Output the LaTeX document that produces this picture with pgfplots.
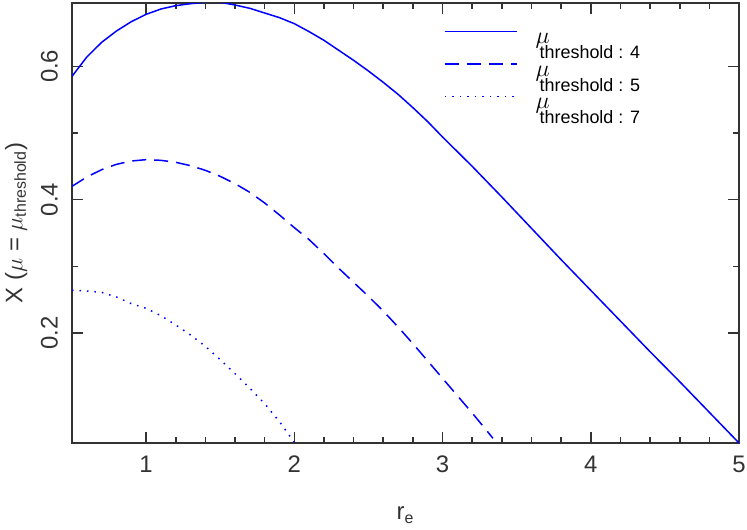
\documentclass[border=0pt]{standalone}
\usepackage{fontspec}
\setmainfont{Liberation Sans}
\usepackage{amsmath}
\usepackage{pgfplots}
\pgfplotsset{compat=1.18}

% legend label: mu raised above the word "threshold", fixed box height
\newcommand{\mth}[1]{\raisebox{-5bp}[12bp][0pt]{\rlap{\raisebox{7.5bp}{\fontsize{13}{13}\selectfont$\mu$}}\hspace{2bp}threshold : #1}}

\begin{document}
\begin{tikzpicture}
\begin{axis}[
  scale only axis, width=333.5bp, height=220bp,
  xmin=0.5, xmax=5, ymin=0.035, ymax=0.695,
  xtick={1,2,3,4,5}, minor x tick num=4,
  ytick={0.2,0.4,0.6}, minor y tick num=1,
  xtick pos=both, ytick pos=both, tick align=inside,
  major tick length=5.5bp, minor tick length=3bp,
  axis line style={line width=1bp, black!80},
  every tick/.style={line width=0.8bp, black!80},
  tick label style={font=\fontsize{12}{14}\selectfont, text=black!80},
  /pgf/number format/assume math mode=true,
  yticklabel style={rotate=90, anchor=south},
  yticklabel shift=3.5bp, xticklabel shift=3bp,
  label style={font=\fontsize{12}{14}\selectfont, text=black!80},
  xlabel={r$_{\text{e}}$},
  ylabel={X ($\mu$ = $\mu_{\text{threshold}}$)},
  xlabel style={at={(ticklabel cs:0.5,10bp)}, anchor=near ticklabel},
  ylabel style={at={(ticklabel cs:0.5,0bp)}, anchor=near ticklabel},
  legend style={at={(rel axis cs:0.558,0.951)}, anchor=north west, draw=none, fill=none,
    inner sep=0pt, outer sep=0pt,
    font=\fontsize{9}{10}\selectfont, row sep=2.75bp,
    nodes={inner sep=0pt, outer sep=0pt}, column sep=9bp,
    cells={anchor=base west}},
  legend image code/.code={\draw[#1] (0bp,8.5bp) -- (36bp,8.5bp);},
]
\addplot[blue, line width=0.75bp] coordinates {
(0.5,0.585)(0.6,0.614)(0.7,0.636)(0.8,0.653)(0.9,0.667)(1.0,0.678)(1.1,0.686)
(1.2,0.691)(1.3,0.694)(1.4,0.696)(1.5,0.696)(1.6,0.692)(1.7,0.687)(1.8,0.680)
(1.9,0.673)(2.0,0.664)(2.1,0.652)(2.2,0.639)(2.3,0.624)(2.4,0.609)(2.5,0.593)
(2.6,0.576)(2.7,0.558)(2.8,0.538)(2.9,0.517)(3.0,0.494)(3.2,0.450)(3.4,0.404)
(3.6,0.357)(3.8,0.310)(4.0,0.264)(4.2,0.218)(4.4,0.172)(4.6,0.127)(4.8,0.081)
(5.0,0.035)};
\addlegendentry{\mth{4}}
\addplot[blue, line width=0.75bp, dash pattern=on 7bp off 4bp] coordinates {
(0.5,0.420)(0.6,0.434)(0.7,0.445)(0.8,0.453)(0.9,0.458)(1.0,0.460)(1.1,0.459)
(1.2,0.456)(1.3,0.451)(1.4,0.444)(1.5,0.435)(1.6,0.424)(1.7,0.411)(1.8,0.395)
(1.9,0.377)(2.0,0.358)(2.1,0.340)(2.2,0.319)(2.3,0.297)(2.4,0.276)(2.5,0.255)
(2.6,0.233)(2.7,0.209)(2.8,0.184)(2.9,0.158)(3.0,0.132)(3.1,0.106)(3.2,0.080)
(3.3,0.053)(3.34,0.042)};
\addlegendentry{\mth{5}}
\addplot[blue, line width=0.75bp, dash pattern=on 0.75bp off 3bp] coordinates {
(0.5,0.264)(0.6,0.263)(0.7,0.261)(0.8,0.254)(0.9,0.244)(1.0,0.237)(1.1,0.226)
(1.2,0.212)(1.3,0.197)(1.4,0.180)(1.5,0.160)(1.6,0.139)(1.7,0.117)(1.8,0.094)
(1.9,0.067)(2.0,0.036)};
\addlegendentry{\mth{7}}
\coordinate (sw) at (rel axis cs:0,0);
\coordinate (ne) at (rel axis cs:1,1);
\end{axis}
\pgfresetboundingbox
\path[use as bounding box] ([shift={(-36bp,-43.5bp)}]sw) rectangle ([shift={(4bp,1.5bp)}]ne);
\end{tikzpicture}
\end{document}
